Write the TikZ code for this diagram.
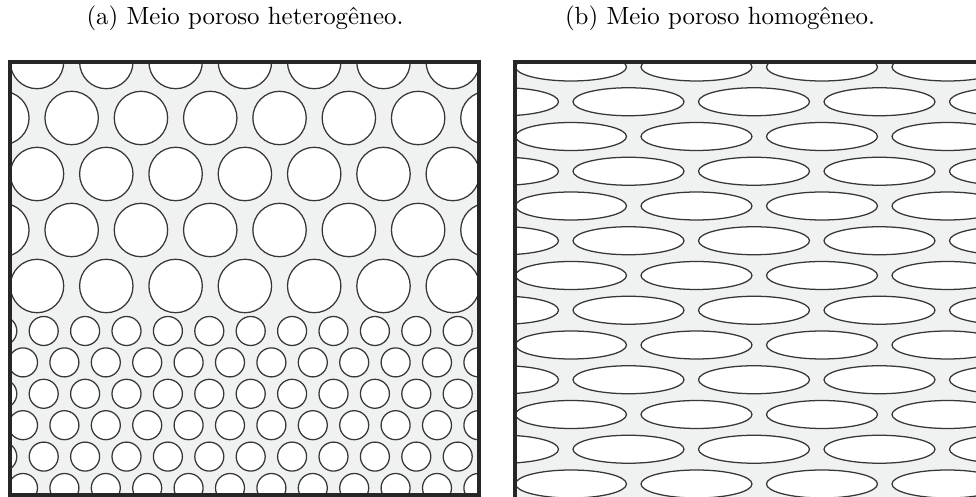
\documentclass[tikz,border=0pt]{standalone}
\usepackage{tikz}
\usetikzlibrary{positioning}
\definecolor{poregray}{RGB}{240,241,241}
\definecolor{edgegray}{RGB}{55,55,55}
\tikzstyle{grain}=[draw=edgegray,fill=white,line width=0.9pt]
\tikzstyle{frame}=[draw=black!85,line width=2.2pt]
\tikzstyle{caption}=[font=\fontsize{10}{12}\selectfont,scale=1.77]

\begin{document}
\begin{tikzpicture}[x=0.025cm,y=-0.025cm]
    \useasboundingbox (0,0) rectangle (976,497);
    \node[caption] (capA) at (245,18) {(a) Meio poroso heterogêneo.};
    \node[caption] (capB) at (720,18) {(b) Meio poroso homogêneo.};
    \begin{scope}
        \clip (10,62) rectangle (479,495);
        \fill[poregray] (10,62) rectangle (479,495);
        \foreach \r in {0,...,4} {
            \pgfmathsetmacro{\xo}{mod(\r,2)*34.65}
            \foreach \c in {-1,...,7}
                \draw[grain] (37+\xo+\c*69.3, 62+\r*56) circle (26.7);
        }
        \foreach \r in {0,...,5} {
            \pgfmathsetmacro{\xo}{mod(\r,2)*20.7}
            \foreach \c in {-1,...,11}
                \draw[grain] (2.3+\xo+\c*41.4, 331+\r*31.4) circle (14.5);
        }
    \end{scope}
    \draw[frame] (10,62) rectangle (479,495);
    \begin{scope}
        \clip (515,62) rectangle (976,497);
        \fill[poregray] (515,62) rectangle (976,497);
        \foreach \r in {0,...,12} {
            \pgfmathsetmacro{\xo}{mod(\r,2)*57.5}
            \foreach \c in {-1,...,3}
                \draw[grain] (571+\xo+\c*125.5, 67+\r*34.75) ellipse [x radius=55.5, y radius=14];
        }
    \end{scope}
    \draw[frame] (976,62) -- (515,62) -- (515,497);
\end{tikzpicture}
\end{document}
